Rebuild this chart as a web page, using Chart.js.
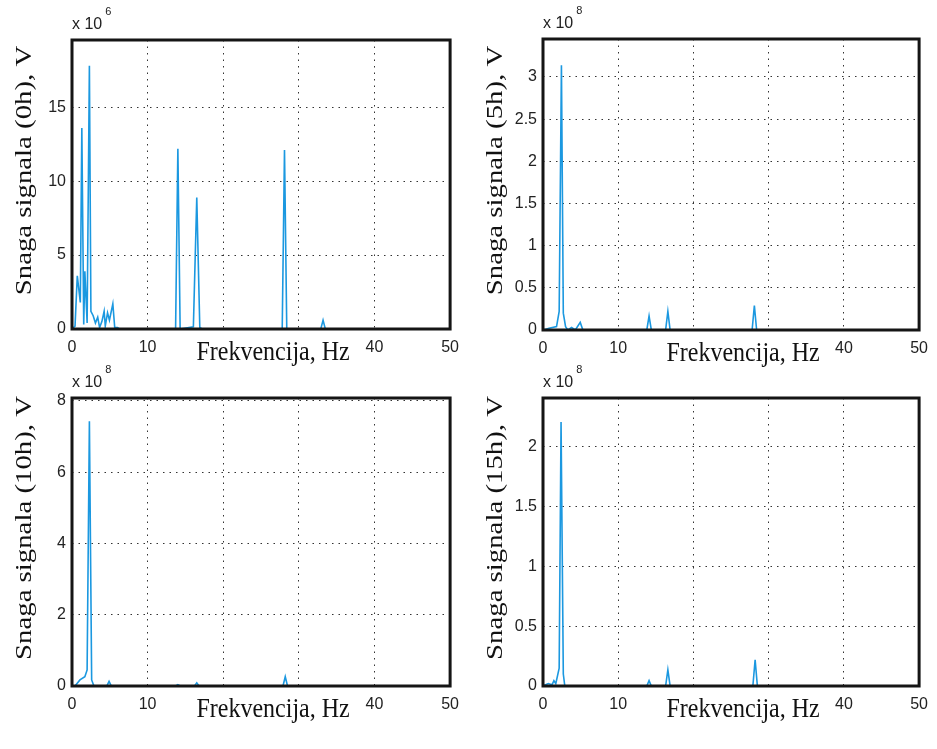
<!DOCTYPE html>
<html><head><meta charset="utf-8">
<script src="https://cdn.jsdelivr.net/npm/chart.js@4.4.0/dist/chart.umd.min.js"></script>
<style>
html,body{margin:0;padding:0;background:#fff;}
#wrap{position:relative;width:937px;height:749px;overflow:hidden;}
canvas{position:absolute;}
</style></head><body>
<div id="wrap">
<canvas id="c0" width="468" height="374" style="left:0;top:0"></canvas>
<canvas id="c1" width="469" height="374" style="left:468px;top:0"></canvas>
<canvas id="c2" width="468" height="394" style="left:0;top:355px"></canvas>
<canvas id="c3" width="469" height="394" style="left:468px;top:355px"></canvas>
</div>
<script>
// ---- data (values in displayed units: 0h ×1e6, others ×1e8) ----
const xTicks = [0, 10, 20, 30, 40, 50];

const freq0h  = [0, 0.4, 0.7, 1.1, 1.3, 1.55, 1.7, 2.0, 2.3, 2.5, 2.8, 3.1, 3.4, 3.65, 3.95, 4.25, 4.4, 4.7, 4.95, 5.4, 5.65, 6.0, 6.3, 13.7, 14.0, 14.3, 16.05, 16.5, 16.9, 17.2, 27.8, 28.1, 28.4, 32.9, 33.2, 33.5, 50];
const power0h = [0, 0.2, 3.6, 1.8, 13.6, 0.3, 3.9, 0.4, 17.8, 1.2, 0.9, 0.4, 0.8, 0.1, 0.5, 1.2, 0.2, 1.1, 0.6, 1.7, 0.1, 0.1, 0, 0, 12.2, 0, 0.15, 8.9, 0.1, 0, 0, 12.1, 0, 0, 0.6, 0, 0];

const freq5h  = [0, 0.8, 1.8, 2.15, 2.45, 2.7, 3.0, 3.3, 3.8, 4.3, 4.95, 5.3, 13.8, 14.1, 14.4, 16.3, 16.6, 16.9, 27.8, 28.1, 28.4, 50];
const power5h = [0, 0.02, 0.04, 0.22, 3.14, 0.2, 0.04, 0, 0.03, 0, 0.09, 0, 0, 0.165, 0, 0, 0.22, 0, 0, 0.29, 0, 0];

const freq10h  = [0, 0.4, 1.05, 1.7, 2.0, 2.3, 2.6, 2.9, 4.6, 4.9, 5.2, 13.7, 14.0, 14.3, 16.2, 16.5, 16.8, 27.9, 28.2, 28.5, 50];
const power10h = [0, 0, 0.17, 0.26, 0.45, 7.43, 0.17, 0, 0, 0.13, 0, 0, 0.04, 0, 0, 0.09, 0, 0, 0.26, 0, 0];

const freq15h  = [0, 0.7, 1.2, 1.45, 1.7, 2.15, 2.4, 2.7, 2.9, 13.8, 14.1, 14.4, 16.3, 16.6, 16.9, 27.9, 28.2, 28.5, 50];
const power15h = [0, 0.02, 0.01, 0.045, 0.02, 0.15, 2.21, 0.1, 0, 0, 0.045, 0, 0, 0.135, 0, 0, 0.22, 0, 0];

const yTicks0h  = [0, 5, 10, 15];
const yTicks5h  = [0, 0.5, 1, 1.5, 2, 2.5, 3];
const yTicks10h = [0, 2, 4, 6, 8];
const yTicks15h = [0, 0.5, 1, 1.5, 2];

const yTitles = ['Snaga signala (0h), V', 'Snaga signala (5h), V', 'Snaga signala (10h), V', 'Snaga signala (15h), V'];
const xTitle = 'Frekvencija, Hz';
const exponents = ['6', '8', '8', '8'];

// ---- panels ----
const panels = [
  {id:'c0', f:freq0h,  p:power0h,  yt:yTicks0h,  ymax:19.55, exp:exponents[0], title:yTitles[0], pad:{top:40,right:16}, yw:72, xh:45},
  {id:'c1', f:freq5h,  p:power5h,  yt:yTicks5h,  ymax:3.45,  exp:exponents[1], title:yTitles[1], pad:{top:39,right:14}, yw:75, xh:44},
  {id:'c2', f:freq10h, p:power10h, yt:yTicks10h, ymax:8.08,  exp:exponents[2], title:yTitles[2], pad:{top:43,right:16}, yw:72, xh:63},
  {id:'c3', f:freq15h, p:power15h, yt:yTicks15h, ymax:2.41,  exp:exponents[3], title:yTitles[3], pad:{top:43,right:14}, yw:75, xh:63}
];

const TITLE_FONT = '24px "Liberation Serif", "Times New Roman", serif';
const TICK_FONT = '"Liberation Sans", Arial, sans-serif';

const boxPlugin = {
  id: 'box',
  afterDatasetsDraw(chart) {
    const {ctx, chartArea: a} = chart;
    ctx.save();
    ctx.strokeStyle = '#151515';
    ctx.lineWidth = 3;
    ctx.strokeRect(a.left, a.top, a.right - a.left, a.bottom - a.top);
    ctx.restore();
  },
  afterDraw(chart, args, opts) {
    const {ctx, chartArea: a} = chart;
    ctx.save();
    // exponent label
    ctx.fillStyle = '#222';
    ctx.textBaseline = 'middle';
    ctx.textAlign = 'left';
    ctx.font = '16px ' + TICK_FONT;
    const base = 'x 10';
    ctx.fillText(base, a.left, a.top - 15);
    const w = ctx.measureText(base).width;
    ctx.font = '11px ' + TICK_FONT;
    ctx.fillText(opts.exp, a.left + w + 3, a.top - 28);
    ctx.restore();

    // x axis title with white backdrop (figure text is slightly stretched vertically)
    ctx.save();
    ctx.font = TITLE_FONT;
    ctx.textAlign = 'center';
    ctx.textBaseline = 'middle';
    const cx = (a.left + a.right) / 2 + 12;
    const cy = a.bottom + 24;
    const tw = ctx.measureText(opts.xTitle).width;
    ctx.fillStyle = '#fff';
    ctx.fillRect(cx - tw / 2 - 3, a.bottom + 9, tw + 6, 32);
    ctx.translate(cx, cy);
    ctx.scale(1, 1.18);
    ctx.fillStyle = '#111';
    ctx.fillText(opts.xTitle, 0, 0);
    ctx.restore();

    // y axis title
    ctx.save();
    ctx.font = TITLE_FONT;
    ctx.textAlign = 'center';
    ctx.textBaseline = 'middle';
    ctx.fillStyle = '#111';
    ctx.translate(a.left - 47, (a.top + a.bottom) / 2 - 14);
    ctx.rotate(-Math.PI / 2);
    ctx.scale(1.2, 1);
    ctx.fillText(opts.yTitle, 0, 0);
    ctx.restore();
  }
};

panels.forEach(pn => {
  const pts = pn.f.map((x, i) => ({x: x, y: pn.p[i]}));
  new Chart(document.getElementById(pn.id), {
    type: 'line',
    data: { datasets: [{ data: pts, borderColor: '#1b98e0', borderWidth: 1.6, pointRadius: 0, tension: 0, fill: false }] },
    options: {
      responsive: false,
      animation: false,
      events: [],
      layout: { padding: { left: 0, top: pn.pad.top, right: pn.pad.right, bottom: 0 } },
      plugins: { legend: { display: false }, tooltip: { enabled: false }, box: { exp: pn.exp, xTitle: xTitle, yTitle: pn.title } },
      scales: {
        x: {
          type: 'linear', min: 0, max: 50,
          afterBuildTicks: s => { s.ticks = xTicks.map(v => ({value: v})); },
          afterFit: s => { s.height = pn.xh; },
          grid: { color: '#333', lineWidth: 1, drawTicks: false },
          border: { display: false, dash: [1.5, 5] },
          ticks: { color: '#222', padding: 9, maxRotation: 0, font: { family: TICK_FONT, size: 16 }, callback: v => String(v) },
          title: { display: false }
        },
        y: {
          type: 'linear', min: 0, max: pn.ymax,
          afterBuildTicks: s => { s.ticks = pn.yt.map(v => ({value: v})); },
          afterFit: s => { s.width = pn.yw; },
          grid: { color: '#333', lineWidth: 1, drawTicks: false },
          border: { display: false, dash: [1.5, 5] },
          ticks: { color: '#222', padding: 6, font: { family: TICK_FONT, size: 16 }, callback: v => String(v) },
          title: { display: false }
        }
      }
    },
    plugins: [boxPlugin]
  });
});
</script>
</body></html>
